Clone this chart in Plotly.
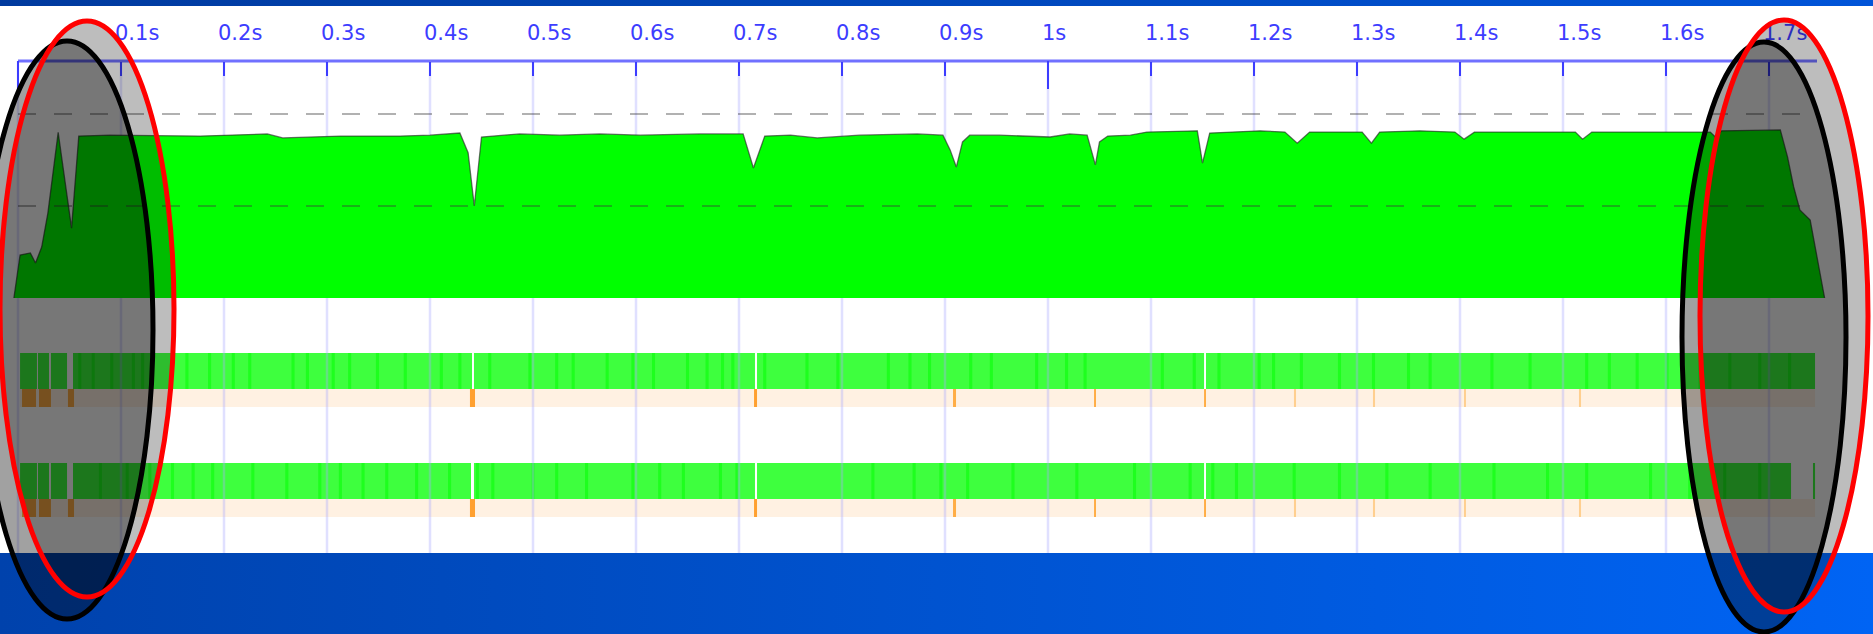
import plotly.graph_objects as go

# ---------------------------------------------------------------------------
# Data
# ---------------------------------------------------------------------------
# Frame-rate curve: sample time (s) and frames per second
FPS_TIME = [-0.004, 0.002, 0.012, 0.017, 0.023, 0.029, 0.039, 0.052, 0.059, 0.089,
            0.177, 0.242, 0.257, 0.313, 0.371, 0.400, 0.429, 0.437, 0.443, 0.450,
            0.487, 0.526, 0.565, 0.604, 0.662, 0.704, 0.714, 0.725, 0.750, 0.776,
            0.817, 0.873, 0.898, 0.905, 0.911, 0.917, 0.924, 0.953, 1.002, 1.021,
            1.038, 1.046, 1.050, 1.058, 1.080, 1.096, 1.145, 1.150, 1.157, 1.206,
            1.230, 1.242, 1.254, 1.305, 1.314, 1.322, 1.361, 1.395, 1.404, 1.414,
            1.468, 1.512, 1.519, 1.528, 1.584, 1.643, 1.648, 1.654, 1.711, 1.718,
            1.724, 1.730, 1.740, 1.754]
FPS_VALUE = [0.0, 14.0, 14.7, 11.4, 16.6, 27.7, 54.0, 22.8, 52.8, 53.1,
             52.8, 53.5, 52.2, 52.8, 52.8, 53.1, 53.8, 47.4, 30.0, 52.5,
             53.5, 53.1, 53.5, 53.1, 53.5, 53.5, 42.4, 52.8, 53.1, 52.2,
             53.1, 53.5, 53.1, 48.3, 42.7, 50.9, 53.1, 53.1, 52.5, 53.5,
             53.1, 43.4, 50.9, 52.8, 53.1, 54.1, 54.5, 44.0, 53.8, 54.5,
             54.1, 50.5, 54.1, 54.1, 50.5, 54.1, 54.5, 54.1, 51.8, 54.1,
             54.1, 54.1, 51.8, 54.1, 54.1, 54.1, 52.5, 54.5, 54.8, 46.0,
             36.2, 28.7, 25.4, 0.0]
REFERENCE_FPS = [60, 30]

# Time axis
TICK_TIMES = [0.1, 0.2, 0.3, 0.4, 0.5, 0.6, 0.7, 0.8, 0.9, 1.0,
              1.1, 1.2, 1.3, 1.4, 1.5, 1.6, 1.7]
TICK_LABELS = ["0.1s", "0.2s", "0.3s", "0.4s", "0.5s", "0.6s", "0.7s", "0.8s", "0.9s", "1s",
               "1.1s", "1.2s", "1.3s", "1.4s", "1.5s", "1.6s", "1.7s"]
GRID_TIMES = [0.0] + TICK_TIMES
MAJOR_TICKS = [0.0, 1.0]
AXIS_END = 1.7466

# Frame strips: (start, end) in seconds of each continuous run of frames
TOP_FRAMES = [(0.002, 0.0184), (0.0194, 0.0301), (0.032, 0.0476), (0.0534, 0.4408),
              (0.4427, 0.7155), (0.7175, 1.1515), (1.1534, 1.7447)]
BOTTOM_FRAMES = [(0.002, 0.0184), (0.0194, 0.0301), (0.032, 0.0476), (0.0534, 0.4398),
                 (0.4427, 0.7155), (0.7175, 1.1515), (1.1534, 1.7214), (1.7427, 1.7447)]
STRIP_SPAN = (0.002, 1.7447)

# Darker (heavier) frames inside each strip, in seconds
TOP_HEAVY = [0.060, 0.073, 0.091, 0.112, 0.121, 0.164, 0.186, 0.209, 0.225, 0.267,
             0.281, 0.306, 0.322, 0.349, 0.376, 0.411, 0.429, 0.458, 0.497, 0.523,
             0.539, 0.572, 0.597, 0.617, 0.650, 0.669, 0.684, 0.694, 0.725, 0.766,
             0.796, 0.845, 0.866, 0.885, 0.925, 0.945, 0.989, 1.018, 1.036, 1.111,
             1.142, 1.166, 1.205, 1.219, 1.246, 1.283, 1.316, 1.350, 1.371, 1.431,
             1.468, 1.523, 1.545, 1.572, 1.601, 1.633, 1.662, 1.691, 1.720]
BOTTOM_HEAVY = [0.080, 0.106, 0.128, 0.150, 0.170, 0.189, 0.228, 0.261, 0.293, 0.313,
                0.335, 0.358, 0.387, 0.419, 0.446, 0.461, 0.500, 0.523, 0.552, 0.597,
                0.623, 0.646, 0.682, 0.698, 0.830, 0.870, 0.896, 0.922, 0.966, 1.028,
                1.084, 1.138, 1.160, 1.183, 1.239, 1.283, 1.329, 1.371, 1.433, 1.485,
                1.523, 1.585, 1.623, 1.657, 1.691]

# Long frames shown on the orange track: (start, end) and severity 1..3
DROP_SPANS = [(0.0039, 0.0175), (0.0204, 0.032), (0.0485, 0.0544), (0.4388, 0.4437),
              (0.7146, 0.7175), (0.9078, 0.9107), (1.0447, 1.0466), (1.1515, 1.1534),
              (1.2388, 1.2408), (1.3155, 1.3175), (1.4039, 1.4058), (1.5155, 1.5175)]
DROP_LEVEL = [2, 2, 2, 3, 3, 2, 2, 2, 1, 1, 1, 1]

# ---------------------------------------------------------------------------
# Geometry and styling (pixels)
# ---------------------------------------------------------------------------
W, H = 1873, 634
PX_PER_SEC = 1030.0
ORIGIN_PX = 18.0
FPS_BASE_PX = 298.0
PX_PER_FPS = 184.0 / 60.0

X_MIN = -ORIGIN_PX / PX_PER_SEC
X_MAX = (W - ORIGIN_PX) / PX_PER_SEC

AXIS_PX = 61
TICK_PX = 14
MAJOR_TICK_PX = 89
LABEL_PX = 35
GRID_BOTTOM_PX = 553
TOP_BAND = (0, 6)
BOTTOM_BAND = (553, 634)
STRIP_ROWS = [(353, 389, 407), (463, 499, 517)]  # green top, green bottom / peach bottom
HEAVY_HALF = 0.0015
LABEL_SHIFT = -6 / PX_PER_SEC

GREEN = "#3eff3e"
HEAVY_GREEN = "#1eff1e"
PEACH = "#fff1e2"
DROP_COLORS = {1: "#ffcf8f", 2: "#ffad45", 3: "#ffa030"}


def rect_path(spans, y0, y1):
    xs, ys = [], []
    for a, b in spans:
        xs += [a, b, b, a, a, None]
        ys += [y0, y0, y1, y1, y0, None]
    return xs, ys


def poly(spans, y0, y1, color, yaxis="y"):
    xs, ys = rect_path(spans, y0, y1)
    return go.Scatter(x=xs, y=ys, yaxis=yaxis, mode="lines", fill="toself",
                      fillcolor=color, line=dict(width=0), hoverinfo="skip")


fig = go.Figure()

# Blue title / footer bands
for (y0, y1), c0, c1 in [(TOP_BAND, "#003a9e", "#0054d8"),
                         (BOTTOM_BAND, "#0042ac", "#0064f4")]:
    fig.add_trace(go.Scatter(
        x=[X_MIN, X_MAX, X_MAX, X_MIN, X_MIN], y=[y0, y0, y1, y1, y0],
        mode="lines", fill="toself", line=dict(width=0), hoverinfo="skip",
        fillgradient=dict(type="horizontal", colorscale=[[0, c0], [1, c1]])))

# Frame strips
for (g0, g1, p1), frames, heavy in [(STRIP_ROWS[0], TOP_FRAMES, TOP_HEAVY),
                                    (STRIP_ROWS[1], BOTTOM_FRAMES, BOTTOM_HEAVY)]:
    fig.add_trace(poly([STRIP_SPAN], g1, p1, PEACH))
    fig.add_trace(poly(frames, g0, g1, GREEN))
    fig.add_trace(poly([(t - HEAVY_HALF, t + HEAVY_HALF) for t in heavy], g0, g1, HEAVY_GREEN))
    for lvl, col in DROP_COLORS.items():
        spans = [s for s, l in zip(DROP_SPANS, DROP_LEVEL) if l == lvl]
        fig.add_trace(poly(spans, g1, p1, col))

# Vertical grid lines
gx, gy = [], []
for t in GRID_TIMES:
    gx += [t, t, None]
    gy += [AXIS_PX, GRID_BOTTOM_PX, None]
fig.add_trace(go.Scatter(x=gx, y=gy, mode="lines", hoverinfo="skip",
                         line=dict(color="rgba(170,170,255,0.36)", width=2.5)))

# Axis line and the longer ticks
fig.add_trace(go.Scatter(x=[0, AXIS_END], y=[AXIS_PX, AXIS_PX], mode="lines",
                         hoverinfo="skip", line=dict(color="#7070ff", width=3)))
mx, my = [], []
for t in MAJOR_TICKS:
    mx += [t, t, None]
    my += [AXIS_PX, MAJOR_TICK_PX, None]
fig.add_trace(go.Scatter(x=mx, y=my, mode="lines", hoverinfo="skip",
                         line=dict(color="#3c3cff", width=2)))

# Tick labels
fig.add_trace(go.Scatter(
    x=[t + LABEL_SHIFT for t in TICK_TIMES], y=[LABEL_PX] * len(TICK_TIMES),
    mode="text", text=TICK_LABELS, textposition="middle right", hoverinfo="skip",
    textfont=dict(family="DejaVu Sans", size=21, color="#3d3dff")))

# Frame-rate area (fps axis)
fig.add_trace(go.Scatter(
    x=FPS_TIME, y=FPS_VALUE, yaxis="y2", mode="lines", fill="tozeroy",
    fillcolor="#00ff00", line=dict(color="rgba(40,40,40,0.65)", width=1.3),
    hoverinfo="skip"))
for v in REFERENCE_FPS:
    fig.add_trace(go.Scatter(
        x=[0, AXIS_END], y=[v, v], yaxis="y2", mode="lines", hoverinfo="skip",
        line=dict(color="rgba(60,60,60,0.4)", width=2, dash="18px,18px")))


# Highlight ellipses
def paper_ellipse(cx, cy, rx, ry, line_color, fill_alpha):
    return dict(type="circle", xref="paper", yref="paper", layer="above",
                x0=(cx - rx) / W, x1=(cx + rx) / W,
                y0=1 - (cy + ry) / H, y1=1 - (cy - ry) / H,
                line=dict(color=line_color, width=5),
                fillcolor=f"rgba(0,0,0,{fill_alpha})")


shapes = [
    paper_ellipse(67, 330, 86, 289, "#000000", 0.37),
    paper_ellipse(87, 309, 87, 288, "#ff0000", 0.26),
    paper_ellipse(1764, 337, 82, 295, "#000000", 0.37),
    paper_ellipse(1784, 316, 84, 296, "#ff0000", 0.26),
]

fig.update_layout(
    width=W, height=H, margin=dict(l=0, r=0, t=0, b=0),
    paper_bgcolor="white", plot_bgcolor="white", showlegend=False,
    shapes=shapes,
    xaxis=dict(range=[X_MIN, X_MAX], domain=[0, 1], anchor="free",
               position=1 - AXIS_PX / H, side="top", showgrid=False,
               zeroline=False, showline=False, ticks="inside", ticklen=TICK_PX,
               tickwidth=2, tickcolor="#3c3cff", tickvals=TICK_TIMES,
               showticklabels=False, fixedrange=True),
    yaxis=dict(range=[H, 0], domain=[0, 1], visible=False, fixedrange=True),
    yaxis2=dict(range=[(FPS_BASE_PX - H) / PX_PER_FPS, FPS_BASE_PX / PX_PER_FPS],
                overlaying="y", anchor="x", visible=False, fixedrange=True),
)

fig.write_html("out.html", config={"displayModeBar": False})
